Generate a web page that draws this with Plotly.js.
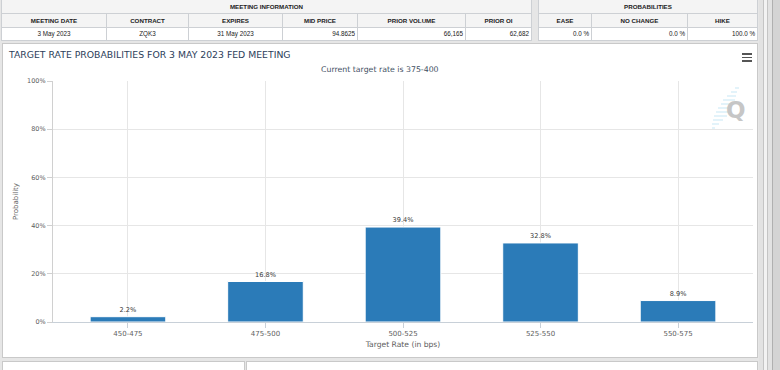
<!DOCTYPE html>
<html>
<head>
<meta charset="utf-8">
<script src="https://cdn.plot.ly/plotly-3.0.1.min.js"></script>
<style>
  html, body { margin:0; padding:0; }
  body { width:780px; height:370px; overflow:hidden; position:relative; background:#e6e6e6; font-family:"Liberation Sans", Arial, sans-serif; }
  .cell { position:absolute; box-sizing:border-box; border-right:1px solid #cdd0d4; border-bottom:1px solid #cdd0d4; color:#222; font-size:6.2px; white-space:nowrap; overflow:hidden; }
  .hdr { font-weight:bold; background:#f4f4f4; text-align:center; }
  .val { background:#fff; font-size:6.3px; }
  #panel { position:absolute; left:2px; top:43px; width:754px; height:313px; border:1px solid #c9c9c9; background:#fff; }
  #chart { position:absolute; left:0; top:0; width:754px; height:313px; }
  .menu { position:absolute; left:739px; width:10px; height:1.6px; background:#555; }
</style>
</head>
<body>
<div id="tables"></div>
<div id="panel"><div id="chart"></div>
  <div class="menu" style="top:9px"></div>
  <div class="menu" style="top:12.5px"></div>
  <div class="menu" style="top:16px"></div>
</div>
<div style="position:absolute;left:2px;top:361px;width:241px;height:20px;border:1px solid #c9c9c9;background:#fff"></div>
<div style="position:absolute;left:246px;top:361px;width:510px;height:20px;border:1px solid #c9c9c9;background:#fff"></div>
<div style="position:absolute;left:759px;top:0;width:21px;height:370px;background:#e2e2e2"></div>
<div style="position:absolute;left:763px;top:0;width:1px;height:370px;background:#c4c4c4"></div>
<div style="position:absolute;left:764px;top:0;width:3px;height:370px;background:#f2f2f2"></div>
<div style="position:absolute;left:767px;top:0;width:1px;height:370px;background:#c4c4c4"></div>
<div style="position:absolute;left:772px;top:0;width:1px;height:370px;background:#b0b0b0"></div>
<div style="position:absolute;left:773px;top:0;width:7px;height:370px;background:#d4d4d4"></div>
<script>
// ---- table data ----
const meetingTitle = 'MEETING INFORMATION';
const meetingHeaders = ['MEETING DATE', 'CONTRACT', 'EXPIRES', 'MID PRICE', 'PRIOR VOLUME', 'PRIOR OI'];
const meetingValues = ['3 May 2023', 'ZQK3', '31 May 2023', '94.8625', '66,165', '62,682'];
const probTitle = 'PROBABILITIES';
const probHeaders = ['EASE', 'NO CHANGE', 'HIKE'];
const probValues = ['0.0 %', '0.0 %', '100.0 %'];

// ---- chart data ----
const chartTitle = 'TARGET RATE PROBABILITIES FOR 3 MAY 2023 FED MEETING';
const chartSubtitle = 'Current target rate is 375-400';
const categories = ['450-475', '475-500', '500-525', '525-550', '550-575'];
const probabilities = [2.2, 16.8, 39.4, 32.8, 8.9];
const yTickVals = [0, 20, 40, 60, 80, 100];
const yTickText = ['0%', '20%', '40%', '60%', '80%', '100%'];
const xTitle = 'Target Rate (in bps)';
const yTitle = 'Probability';

// ---- build tables ----
const tables = document.getElementById('tables');
function addCell(txt, left, top, w, h, cls, align) {
  const d = document.createElement('div');
  d.className = 'cell ' + cls;
  d.style.left = left + 'px'; d.style.top = top + 'px';
  d.style.width = w + 'px'; d.style.height = h + 'px';
  d.style.lineHeight = (h - 1) + 'px';
  d.style.textAlign = align;
  if (align === 'right') d.style.paddingRight = '2px';
  d.textContent = txt;
  tables.appendChild(d);
}
function buildTable(left, widths, title, headers, values, aligns) {
  const total = widths.reduce((a, b) => a + b, 0);
  const b = document.createElement('div');
  b.style.cssText = 'position:absolute;top:0;height:41px;width:1px;background:#cdd0d4;left:' + (left - 1) + 'px';
  tables.appendChild(b);
  addCell(title, left, 0, total, 14, 'hdr', 'center');
  let x = left;
  headers.forEach((h, i) => {
    addCell(h, x, 14, widths[i], 14, 'hdr', 'center');
    addCell(values[i], x, 28, widths[i], 13, 'val', aligns[i]);
    x += widths[i];
  });
}
buildTable(2, [105, 82, 94, 75, 108, 66], meetingTitle, meetingHeaders, meetingValues,
  ['center', 'center', 'center', 'right', 'right', 'right']);
buildTable(539, [53, 96, 70], probTitle, probHeaders, probValues, ['right', 'right', 'right']);

// ---- chart ----
const W = 754, H = 313;
const M = {l: 50, r: 4, t: 37, b: 35};
const pw = W - M.l - M.r, ph = H - M.t - M.b;
const px = X => (X - M.l) / pw;
const py = Y => (H - M.b - Y) / ph;

const font = '"DejaVu Sans", Verdana, sans-serif';
const trace = {
  type: 'bar',
  x: categories,
  y: probabilities,
  text: probabilities.map(v => v.toFixed(1) + '%'),
  textposition: 'outside',
  cliponaxis: false,
  textfont: {family: font, size: 6.6, color: '#3a3a3a'},
  width: 0.55,
  marker: {color: '#2b7bb8', line: {color: '#ffffff', width: 1}},
  hoverinfo: 'x+y'
};

const dashShapes = [];
const dashes = [[732, 736, 44], [728, 734, 48], [724, 733, 52], [720, 732, 56], [718, 731, 60], [715, 729, 64], [713, 727, 68], [711, 724, 72], [710, 720, 76], [709, 716, 80], [709, 712, 84]];
dashes.forEach(d => dashShapes.push({type: 'line', xref: 'paper', yref: 'paper',
  x0: px(d[0]), x1: px(d[1]), y0: py(d[2]), y1: py(d[2]), line: {color: '#cdeaf6', width: 1.1}, layer: 'below'}));

const layout = {
  width: W, height: H,
  margin: M,
  paper_bgcolor: '#ffffff', plot_bgcolor: '#ffffff',
  font: {family: font, color: '#666'},
  showlegend: false,
  title: {text: chartTitle, x: 6 / W, xanchor: 'left', xref: 'container', y: 1 - 10.5 / H, yanchor: 'middle', yref: 'container',
    font: {family: font, size: 9.3, color: '#2c3e5a'}},
  xaxis: {
    type: 'category', range: [-0.545, 4.545], fixedrange: true,
    showgrid: true, gridcolor: '#e6e6e6', gridwidth: 1,
    showline: true, linecolor: '#c8d0d8', linewidth: 1,
    ticks: 'outside', ticklen: 5, tickcolor: '#c8d0d8',
    tickfont: {family: font, size: 7, color: '#606060'},
    title: {text: xTitle, font: {family: font, size: 7.6, color: '#606060'}, standoff: 4}
  },
  yaxis: {
    range: [0, 100], fixedrange: true,
    tickvals: yTickVals, ticktext: yTickText,
    showgrid: true, gridcolor: '#e6e6e6', zeroline: false,
    showline: true, linecolor: '#d0d0d0',
    ticks: 'outside', ticklen: 5, tickcolor: '#d0d0d0',
    tickfont: {family: font, size: 6.5, color: '#606060'},
    title: {text: yTitle, font: {family: font, size: 7, color: '#606060'}, standoff: 7}
  },
  annotations: [
    {text: chartSubtitle, xref: 'paper', yref: 'paper', x: px(377), y: py(25.5), xanchor: 'center', yanchor: 'middle',
      showarrow: false, font: {family: font, size: 7.8, color: '#3f4f63'}},
    {text: '<b>Q</b>', xref: 'paper', yref: 'paper', x: px(733), y: py(66), xanchor: 'center', yanchor: 'middle',
      showarrow: false, font: {family: font, size: 23, color: '#c6c6c6'}}
  ],
  shapes: dashShapes
};

Plotly.newPlot('chart', [trace], layout, {displayModeBar: false, staticPlot: true});
</script>
</body>
</html>
